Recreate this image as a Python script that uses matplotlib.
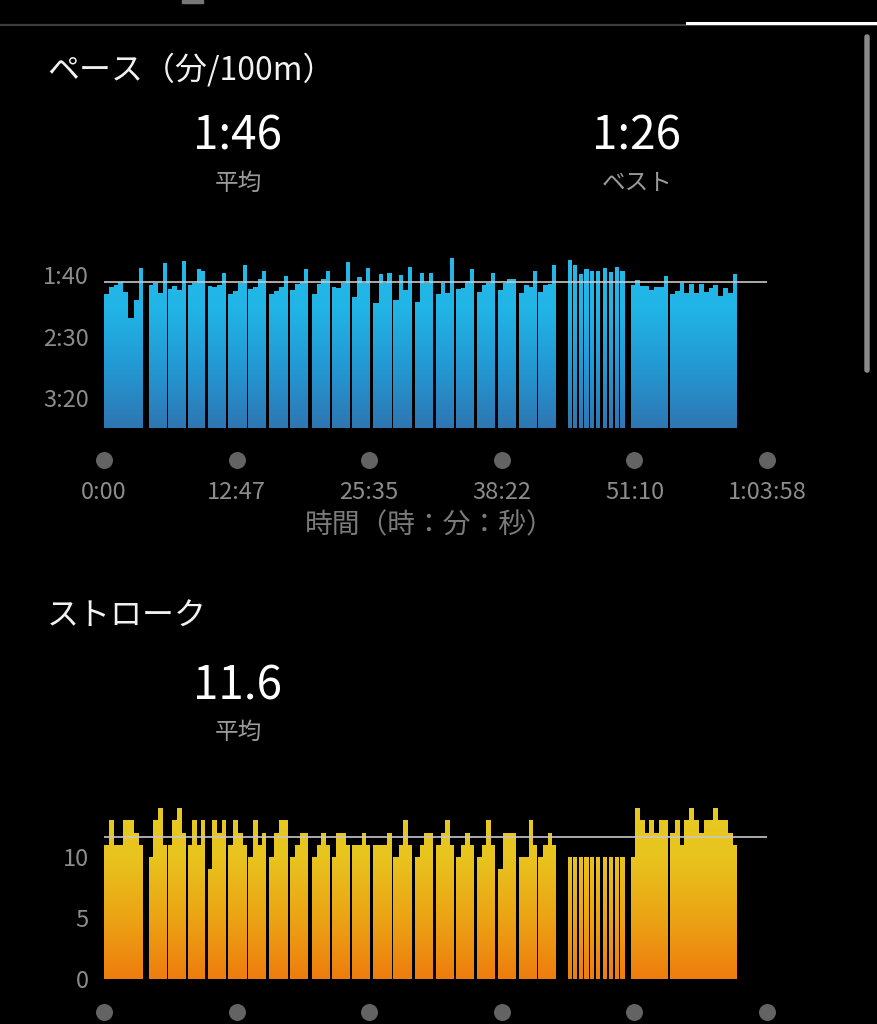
import numpy as np
import matplotlib
matplotlib.use('Agg')
import matplotlib.pyplot as plt
from matplotlib.path import Path
from matplotlib.patches import PathPatch, FancyBboxPatch, Rectangle
from matplotlib.colors import LinearSegmentedColormap
from matplotlib.lines import Line2D
import matplotlib.transforms as mtrans

plt.rcParams['font.family'] = ['Noto Sans CJK JP', 'DejaVu Sans']

# ---------------- data ----------------
total_s = 3838                      # 1:03:58
pace_avg_s = 106                    # 1:46 /100m
pace_best_s = 86                    # 1:26 /100m
stroke_avg = 11.6
length_m = 25

# start time (s) of each swim set
set_start_s = [0, 259, 368, 484, 600, 720, 835, 957, 1077, 1202, 1318, 1437,
               1559, 1675, 1800, 1920, 2036, 2157, 2279, 2402, 2514,
               2688, 2713, 2748, 2781, 2813, 2846, 2891, 2923, 2956, 2989,
               3049, 3276]

# pace (s / 100m) of each 25m length, per set
pace_sets = [
    [115.4, 110, 107.9, 105.4, 113.6, 134.7, 120.3, 94.6],
    [108.1, 106.2, 114.4, 90.5],
    [111.7, 108.9, 112.2, 88.9],
    [108.1, 106.8, 95.4, 96.5],
    [108.7, 109.5, 108.1, 98.1],
    [115.4, 112.7, 106.8, 91.6],
    [111.7, 110, 103.5, 96.5],
    [115.4, 112.7, 109.5, 100.8],
    [112.2, 107.6, 105.4, 95.4],
    [115.4, 107.6, 103.5, 96.5],
    [109.5, 110.8, 106.8, 89.2],
    [117.6, 101.4, 106.2, 94.6],
    [123, 99.2, 106.2, 98.1],
    [120.3, 100, 112.2, 93.8],
    [122.2, 98.1, 106.2, 98.1],
    [115.4, 106.8, 114.4, 86],
    [111.7, 110.8, 104.9, 95.4],
    [113.6, 108.1, 106.2, 98.1],
    [112.2, 106.8, 103.3, 103.3],
    [114.4, 108.1, 109.5, 96.5],
    [113.6, 108.1, 107.3, 91.6],
    [88], [92], [99], [95.5], [96.5], [96.5], [94.5], [97.5], [93.5], [96.5],
    [108, 104, 109, 109, 112, 110, 109.5, 101],
    [115.4, 112.7, 106.8, 114.9, 107.6, 114.9, 107.6, 113.6, 110.3, 108.1,
     117, 110.8, 114.4, 99.2],
]

# strokes of each 25m length, per set
stroke_sets = [
    [11, 13, 11, 11, 13, 13, 12, 11],
    [10, 13, 14, 11],
    [11, 13, 14, 12],
    [11, 13, 11, 13],
    [9, 13, 12, 13],
    [11, 13, 12, 11],
    [10, 13, 11, 12],
    [10, 12, 13, 13],
    [10, 11, 12, 12],
    [10, 11, 12, 11],
    [10, 12, 12, 11],
    [11, 11, 12, 11],
    [11, 11, 11, 12],
    [10, 11, 13, 11],
    [10, 11, 12, 12],
    [11, 12, 13, 11],
    [10, 11, 12, 11],
    [10, 11, 13, 11],
    [9, 12, 12, 12],
    [10, 10, 13, 11],
    [10, 11, 12, 11],
    [10], [10], [10], [10], [10], [10], [10], [10], [10], [10],
    [10, 14, 13, 12, 13, 12, 13, 13],
    [12, 13, 11, 13, 14, 13, 12, 13, 13, 14, 13, 13, 12, 11],
]

x_tick_labels = ['0:00', '12:47', '25:35', '38:22', '51:10', '1:03:58']
pace_tick_vals = [100, 150, 200]
pace_tick_labels = ['1:40', '2:30', '3:20']
stroke_tick_vals = [0, 5, 10]
stroke_tick_labels = ['0', '5', '10']

# ---------------- helpers ----------------
W, H = 878, 1024
fig = plt.figure(figsize=(W / 100, H / 100), dpi=100, facecolor='black')


def fx(px):
    return px / W


def fy(py):
    return 1 - py / H


def mmss(s):
    s = int(round(s))
    return f"{s // 60}:{s % 60:02d}"


# flatten lengths
starts, durs, paces, strokes = [], [], [], []
for st, ps, ss in zip(set_start_s, pace_sets, stroke_sets):
    t = st
    for p, k in zip(ps, ss):
        d = p * length_m / 100.0
        starts.append(t)
        durs.append(d)
        paces.append(p)
        strokes.append(k)
        t += d
starts = np.array(starts)
durs = np.array(durs)
paces = np.array(paces)
strokes = np.array(strokes, dtype=float)


def gradient_bars(ax, x, w, vals, base, colors, g_bottom, g_top):
    bars = ax.bar(x, vals - base, width=w, bottom=base, align='edge',
                  color='none', linewidth=0)
    paths = [b.get_path().transformed(b.get_patch_transform()) for b in bars]
    compound = Path.make_compound_path(*paths)
    cmap = LinearSegmentedColormap.from_list('g', colors)
    grad = np.linspace(0, 1, 256).reshape(-1, 1)
    im = ax.imshow(grad, extent=[0, total_s, g_bottom, g_top], origin='lower',
                   aspect='auto', cmap=cmap, zorder=1, interpolation='bilinear')
    im.set_clip_path(PathPatch(compound, transform=ax.transData))


def style_axes(ax):
    ax.set_facecolor('black')
    for sp in ax.spines.values():
        sp.set_visible(False)
    ax.tick_params(axis='both', length=0, colors='#8c8c8c', labelsize=17)


# ---------------- decorations (top bar, scrollbar) ----------------
fig.add_artist(Line2D([0, 1], [fy(25), fy(25)], color='#3c3c3c', lw=1.6,
                      transform=fig.transFigure))
fig.add_artist(Line2D([fx(687), 1], [fy(23), fy(23)], color='white', lw=2.2,
                      transform=fig.transFigure))
fig.add_artist(Rectangle((fx(182), fy(3)), fx(21), 3 / H, color='#777777',
                         transform=fig.transFigure))
fig.add_artist(FancyBboxPatch((fx(865), fy(372)), fx(4), 337 / H,
                              boxstyle='round,pad=0,rounding_size=0.002',
                              color='#8a8a8a', transform=fig.transFigure))

# ---------------- pace chart ----------------
p_top_px, p_bot_px = 250, 428
px_per_s = 61.5 / 50.0
pace_lo = 100 + (p_bot_px - 275) / px_per_s     # value at bottom
pace_hi = 100 + (p_top_px - 275) / px_per_s     # value at top

ax1 = fig.add_axes([fx(104), fy(p_bot_px), fx(663), (p_bot_px - p_top_px) / H])
style_axes(ax1)
gradient_bars(ax1, starts, durs, paces, pace_lo,
              ['#2e76b2', '#2398d2', '#21b4e6', '#25bbea'], pace_lo, pace_hi)
ax1.axhline(pace_avg_s, color='#c8c8c8', lw=1.2, zorder=3)
ax1.set_xlim(0, total_s)
ax1.set_ylim(pace_lo, pace_hi)
ax1.set_yticks(pace_tick_vals, pace_tick_labels)
ax1.tick_params(axis='y', pad=11)
tick_pos = np.linspace(0, total_s, len(x_tick_labels))
ax1.set_xticks(tick_pos, x_tick_labels)
ax1.tick_params(axis='x', pad=38)
ax1.scatter(tick_pos, [-0.18] * len(tick_pos), s=150, color='#636363',
            transform=mtrans.blended_transform_factory(ax1.transData, ax1.transAxes),
            clip_on=False, zorder=5, linewidths=0)

fig.text(fx(47), fy(70), 'ペース（分/100m）', color='#f2f2f2', fontsize=23,
         va='center', ha='left')
fig.text(fx(238), fy(136), mmss(pace_avg_s), color='white', fontsize=33,
         ha='center', va='center')
fig.text(fx(238), fy(183), '平均', color='#9a9a9a', fontsize=17,
         ha='center', va='center')
fig.text(fx(637), fy(136), mmss(pace_best_s), color='white', fontsize=33,
         ha='center', va='center')
fig.text(fx(637), fy(183), 'ベスト', color='#9a9a9a', fontsize=17,
         ha='center', va='center')
fig.text(fx(430), fy(525), '時間（時：分：秒）', color='#7a7a7a', fontsize=20,
         ha='center', va='center')

# ---------------- stroke chart ----------------
s_top_px, s_bot_px = 795, 979
px_per_stroke = 12.2
stroke_hi = (s_bot_px - s_top_px) / px_per_stroke

ax2 = fig.add_axes([fx(104), fy(s_bot_px), fx(663), (s_bot_px - s_top_px) / H])
style_axes(ax2)
gradient_bars(ax2, starts, durs, strokes, 0,
              ['#ee7c0e', '#eba414', '#e8c41e', '#e6cc22'], 0, stroke_hi)
ax2.axhline(stroke_avg, color='#c8c8c8', lw=1.2, zorder=3)
ax2.set_xlim(0, total_s)
ax2.set_ylim(0, stroke_hi)
ax2.set_yticks(stroke_tick_vals, stroke_tick_labels)
ax2.tick_params(axis='y', pad=11)
ax2.set_xticks([])
ax2.scatter(tick_pos, [-0.179] * len(tick_pos), s=150, color='#636363',
            transform=mtrans.blended_transform_factory(ax2.transData, ax2.transAxes),
            clip_on=False, zorder=5, linewidths=0)

fig.text(fx(47), fy(617), 'ストローク', color='#f2f2f2', fontsize=23,
         va='center', ha='left')
fig.text(fx(238), fy(686), f"{stroke_avg:.1f}", color='white', fontsize=33,
         ha='center', va='center')
fig.text(fx(238), fy(732), '平均', color='#9a9a9a', fontsize=17,
         ha='center', va='center')

fig.savefig('out.png', dpi=100, facecolor='black')
